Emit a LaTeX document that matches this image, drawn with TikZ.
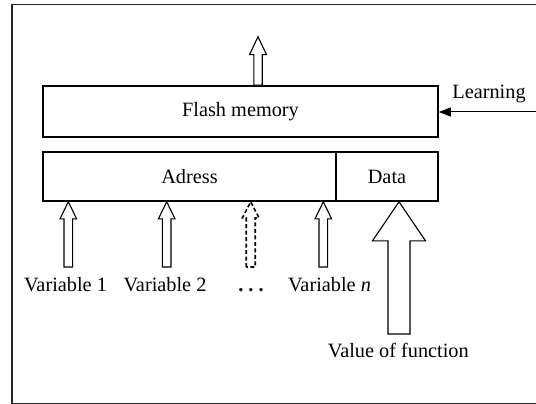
\documentclass[tikz,border=0pt]{standalone}
\usepackage{fontspec}
\setmainfont{Liberation Serif}
\usetikzlibrary{calc,arrows.meta}

\tikzset{
  every node/.style={font=\fontsize{20.3pt}{24pt}\selectfont},
  box/.style={draw, line width=1.6pt, inner sep=0pt},
  lbl/.style={inner sep=0pt, anchor=base},
  hollow/.style={draw, line width=1.1pt, fill=white, line join=miter},
  dashedarrow/.style={hollow, line width=1.6pt, dash pattern=on 4pt off 2.5pt},
  thinline/.style={line width=1pt},
}

% Vertical block arrow: #1 style, #2 tip, #3 base, #4 half shaft width,
% #5 half head width, #6 head length
\newcommand\blockarrow[6]{%
  \draw[#1] let \p1=(#2), \p2=(#3) in
    (\x1-#4,\y2) -- (\x1-#4,\y1-#6) -- (\x1-#5,\y1-#6) -- (\x1,\y1)
    -- (\x1+#5,\y1-#6) -- (\x1+#4,\y1-#6) -- (\x1+#4,\y2) -- cycle;}

\begin{document}
\begin{tikzpicture}[x=1pt, y=-1pt]
  \useasboundingbox (0,0) rectangle (536,404);

  % outer frame
  \draw[line width=1.4pt, draw=black!85] (12,4.5) rectangle (545,403.6);

  % memory blocks
  \node[box, minimum width=395pt, minimum height=51pt] (flash) at (240.5,111.5) {Flash memory};
  \node[box, minimum width=293pt, minimum height=49pt] (adress) at (189.5,176.5) {Adress};
  \node[box, minimum width=102pt, minimum height=49pt] (data) at (387,176.5) {Data};

  % output arrow
  \coordinate (out) at (258,36.7);
  \blockarrow{hollow}{out}{out |- flash.north}{4.2pt}{8.5pt}{18pt}

  % learning input
  \coordinate (lrn) at (537,112);
  \draw[thinline, -{Triangle[length=12pt,width=9pt]}] (lrn) -- (flash.east |- lrn);
  \node[lbl] (lrnlab) at (489,99) {Learning};

  % variable inputs
  \coordinate (v1) at (68.3,267);
  \coordinate (v2) at (166.7,267);
  \coordinate (vd) at (250.7,267);
  \coordinate (vn) at (323.3,267);
  \blockarrow{hollow}{v1 |- adress.south}{v1}{4.3pt}{8.3pt}{17pt}
  \blockarrow{hollow}{v2 |- adress.south}{v2}{4.3pt}{8.3pt}{17pt}
  \blockarrow{dashedarrow}{vd |- adress.south}{vd}{4.5pt}{8.3pt}{16pt}
  \blockarrow{hollow}{vn |- adress.south}{vn}{4.3pt}{8.3pt}{17pt}

  % function value input
  \coordinate (vf) at (399,334);
  \blockarrow{hollow}{vf |- data.south}{vf}{11pt}{26.5pt}{39pt}

  % labels
  \node[lbl] (v1lab) at (65.5,291.5) {Variable 1};
  \node[lbl] (v2lab) at (165,291.5) {Variable 2};
  \node[lbl] (dots) at (251,291.5) {\bfseries .\hspace{5pt}.\hspace{5pt}.};
  \node[lbl] (vnlab) at (329.5,291.5) {Variable \textit{n}};
  \node[lbl] (vflab) at (398.3,357) {Value of function};
\end{tikzpicture}
\end{document}
